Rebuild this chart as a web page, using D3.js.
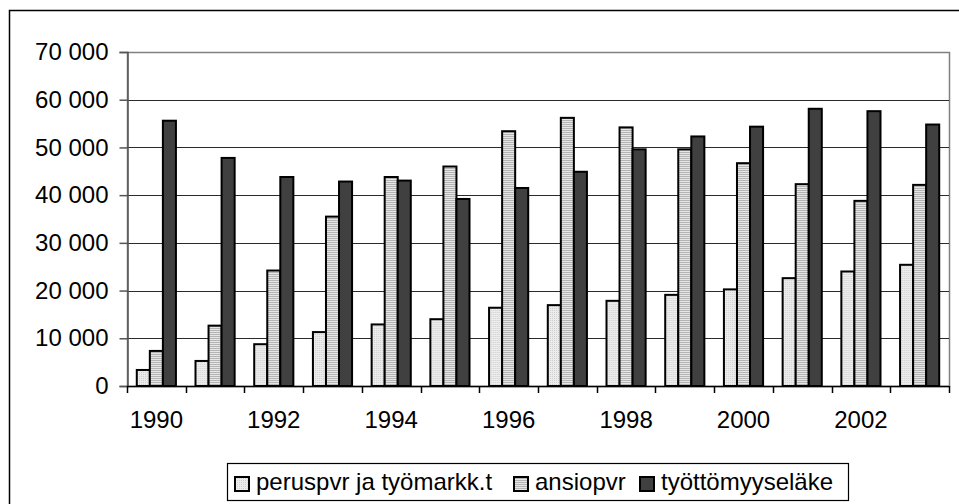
<!DOCTYPE html>
<html>
<head>
<meta charset="utf-8">
<script src="https://cdn.jsdelivr.net/npm/d3@7"></script>
<style>
  body { margin: 0; background: #fff; }
  svg { display: block; font-family: "Liberation Sans", Arial, sans-serif; }
</style>
</head>
<body>
<div id="chart"></div>
<script>
// data
const years = [1990, 1991, 1992, 1993, 1994, 1995, 1996, 1997, 1998, 1999, 2000, 2001, 2002, 2003];
const seriesNames = ["peruspvr ja työmarkk.t", "ansiopvr", "työttömyyseläke"];
const peruspvr = [3360, 5250, 8760, 11300, 12900, 14000, 16400, 16950, 17850, 19100, 20250, 22600, 24000, 25400];
const ansiopvr = [7350, 12650, 24200, 35500, 43800, 46000, 53400, 56200, 54200, 49600, 46700, 42300, 38800, 42150];
const tyottomyyselake = [55600, 47800, 43800, 42850, 43050, 39200, 41500, 44900, 49600, 52300, 54350, 58100, 57600, 54800];
const yTicks = [0, 10000, 20000, 30000, 40000, 50000, 60000, 70000];
const xLabels = [1990, 1992, 1994, 1996, 1998, 2000, 2002];

const seriesValues = [peruspvr, ansiopvr, tyottomyyselake];

const W = 959, H = 504;
const plot = {left: 127, right: 949, top: 52, bottom: 386};

const svg = d3.select("#chart").append("svg")
  .attr("width", W)
  .attr("height", H);

// patterns for the bar fills
const defs = svg.append("defs");
const dots = defs.append("pattern")
  .attr("id", "dots")
  .attr("patternUnits", "userSpaceOnUse")
  .attr("width", 2).attr("height", 2);
dots.append("rect").attr("width", 2).attr("height", 2).attr("fill", "#ececec");
dots.append("rect").attr("width", 1).attr("height", 1).attr("fill", "#cfcfcf");

const stripes = defs.append("pattern")
  .attr("id", "stripes")
  .attr("patternUnits", "userSpaceOnUse")
  .attr("width", 4).attr("height", 2);
stripes.append("rect").attr("width", 4).attr("height", 2).attr("fill", "#e6e6e6");
stripes.append("rect").attr("width", 4).attr("height", 1).attr("fill", "#b4b4b4");

const fills = ["url(#dots)", "url(#stripes)", "#404040"];

// outer frame (right and bottom edges fall outside the picture)
svg.append("rect")
  .attr("x", 9.5).attr("y", 10.5)
  .attr("width", 960).attr("height", 500)
  .attr("fill", "none")
  .attr("stroke", "#000")
  .attr("stroke-width", 1.5);

// scales
const x0 = d3.scaleBand()
  .domain(years)
  .range([plot.left, plot.right])
  .padding(0);

const x1 = d3.scaleBand()
  .domain(d3.range(seriesNames.length))
  .range([0, x0.bandwidth()])
  .paddingInner(0)
  .paddingOuter(0.75);

const y = d3.scaleLinear()
  .domain([0, 70000])
  .range([plot.bottom, plot.top]);

const fmt = d3.formatLocale({decimal: ",", thousands: " ", grouping: [3], currency: ["", ""]}).format(",d");

// plot border (gray)
svg.append("rect")
  .attr("x", plot.left + 0.5).attr("y", plot.top + 0.5)
  .attr("width", plot.right - plot.left).attr("height", plot.bottom - plot.top)
  .attr("fill", "none")
  .attr("stroke", "#808080")
  .attr("stroke-width", 1.5);

// gridlines
svg.append("g")
  .selectAll("line")
  .data(yTicks.filter(d => d > 0 && d < 70000))
  .enter().append("line")
  .attr("x1", plot.left).attr("x2", plot.right)
  .attr("y1", d => Math.round(y(d)) + 0.5)
  .attr("y2", d => Math.round(y(d)) + 0.5)
  .attr("stroke", "#2a2a2a")
  .attr("stroke-width", 1);

// y axis
const yAxis = svg.append("g")
  .attr("transform", `translate(${plot.left + 0.5},0)`)
  .call(d3.axisLeft(y).tickValues(yTicks).tickSize(8).tickPadding(11).tickFormat(fmt));
yAxis.select(".domain").attr("stroke", "#555").attr("stroke-width", 1.5);
yAxis.selectAll(".tick line").attr("stroke", "#555").attr("stroke-width", 1.5);
yAxis.selectAll("text")
  .attr("fill", "#000")
  .style("font-size", "24px")
  .style("font-family", "'Liberation Sans', Arial, sans-serif");

// bars
const groups = svg.append("g")
  .selectAll("g")
  .data(years)
  .enter().append("g")
  .attr("transform", d => `translate(${x0(d)},0)`);

groups.selectAll("rect")
  .data((d, i) => seriesValues.map((vals, s) => ({s: s, v: vals[i]})))
  .enter().append("rect")
  .attr("x", d => x1(d.s))
  .attr("y", d => y(d.v))
  .attr("width", x1.bandwidth())
  .attr("height", d => y(0) - y(d.v))
  .attr("fill", d => fills[d.s])
  .attr("stroke", "#000")
  .attr("stroke-width", 2);

// x axis
svg.append("line")
  .attr("x1", plot.left).attr("x2", plot.right)
  .attr("y1", plot.bottom + 0.5).attr("y2", plot.bottom + 0.5)
  .attr("stroke", "#000")
  .attr("stroke-width", 1.5);

svg.append("g")
  .selectAll("line")
  .data(years.concat([null]))
  .enter().append("line")
  .attr("x1", (d, i) => Math.round(plot.left + i * x0.step()) + 0.5)
  .attr("x2", (d, i) => Math.round(plot.left + i * x0.step()) + 0.5)
  .attr("y1", plot.bottom)
  .attr("y2", plot.bottom + 7)
  .attr("stroke", "#000")
  .attr("stroke-width", 1.5);

svg.append("g")
  .selectAll("text")
  .data(xLabels)
  .enter().append("text")
  .attr("x", d => x0(d) + x0.bandwidth() / 2)
  .attr("y", 428)
  .attr("text-anchor", "middle")
  .style("font-size", "24px")
  .text(d => d);

// legend
svg.append("rect")
  .attr("x", 227.5).attr("y", 463.5)
  .attr("width", 621).attr("height", 37)
  .attr("fill", "#fff")
  .attr("stroke", "#000")
  .attr("stroke-width", 1.2);

const legendX = [235, 514, 640];
const legend = svg.append("g")
  .selectAll("g")
  .data(seriesNames)
  .enter().append("g")
  .attr("transform", (d, i) => `translate(${legendX[i]},0)`);

legend.append("rect")
  .attr("x", 0).attr("y", 477)
  .attr("width", 14).attr("height", 14)
  .attr("fill", (d, i) => fills[i])
  .attr("stroke", "#000")
  .attr("stroke-width", 2);

legend.append("text")
  .attr("x", 21).attr("y", 490)
  .style("font-size", "24px")
  .text(d => d);
</script>
</body>
</html>
